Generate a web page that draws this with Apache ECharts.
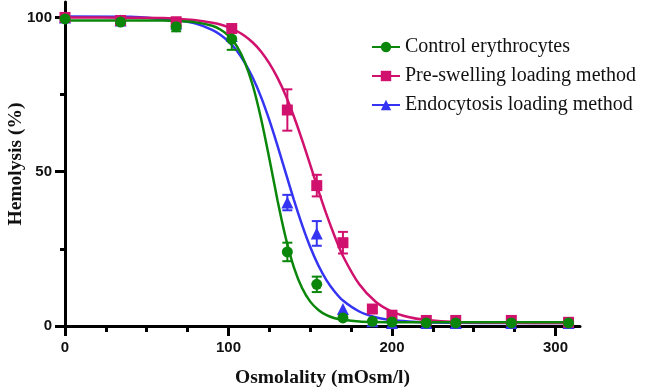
<!DOCTYPE html>
<html>
<head>
<meta charset="utf-8">
<script src="https://cdn.jsdelivr.net/npm/echarts@6/dist/echarts.min.js"></script>
<style>
  html, body { margin: 0; padding: 0; background: #fff; }
  #chart { width: 647px; height: 388px; }
</style>
</head>
<body>
<div id="chart"></div>
<script>
// measured points (mean +/- sd)
const osmolality = [0, 34, 68, 102, 136, 154, 170, 188, 200, 221, 239, 273, 308];
const controlMean = [99.5, 98.5, 97, 93, 24, 13.5, 2.6, 1.5, 1.3, 1, 1, 1, 1];
const controlErr = [0, 0, 1.5, 3.5, 3, 2.5, 0, 0, 0, 0, 0, 0, 0];
const preMean = [100, 99, 98.6, 96.4, 70, 45.5, 27, 5.5, 3.5, 1.8, 1.8, 1.8, 1.2];
const preErr = [0, 0, 0, 0, 6.7, 3.5, 3.5, 1, 0.8, 0, 0, 0, 0];
const endoMean = [100, 99, 98, 94, 40, 30, 5.5, 1.5, 1, 1, 1, 1, 1];
const endoErr = [0, 0, 0, 0, 2.5, 4, 0, 0, 0, 0, 0, 0, 0];

// fitted curves
const curveX = [0, 40, 60, 70, 80, 90, 95, 100, 105, 110, 115, 120, 125, 130, 135, 140, 145, 150, 155, 160, 165, 170, 180, 190, 200, 210, 220, 240, 270, 308];
const controlCurve = [99, 99, 99, 98.8, 98.4, 97.3, 96.1, 94.1, 90.8, 85.5, 77.7, 67, 54.2, 40.7, 28.6, 19, 12.3, 7.9, 5.2, 3.5, 2.5, 2, 1.46, 1.28, 1.22, 1.2, 1.2, 1.2, 1.2, 1.2];
const preCurve = [100, 99.9, 99.8, 99.5, 99.1, 98.3, 97.7, 96.8, 95.6, 94, 91.8, 88.9, 85.1, 80.4, 74.7, 67.9, 60.3, 52.2, 43.9, 36.1, 29, 22.7, 13.5, 7.85, 4.64, 2.9, 2, 1.26, 1.03, 1];
const endoCurve = [100.3, 100.2, 99.5, 99, 98, 96, 94.4, 92.2, 89.3, 85.3, 80.3, 74.1, 66.7, 58.4, 49.6, 40.9, 32.8, 25.6, 19.6, 14.8, 11.1, 8.25, 4.7, 2.85, 1.92, 1.45, 1.2, 1.05, 1, 1];

const xMajor = [0, 100, 200, 300];
const xMinor = [25, 50, 75, 125, 150, 175, 225, 250, 275];
const yMajor = [0, 50, 100];
const yMinor = [25, 75];

const names = ['Control erythrocytes', 'Pre-swelling loading method', 'Endocytosis loading method'];
const colors = ['#0a870a', '#d0126e', '#3434f2'];
const symbols = ['circle', 'rect', 'triangle'];

const chart = echarts.init(document.getElementById('chart'), null, { renderer: 'canvas' });

const pairs = (xs, ys) => xs.map((x, i) => [x, ys[i]]);
const errPairs = (xs, ys, es) => xs.map((x, i) => [x, ys[i] - es[i], ys[i] + es[i]]).filter((d, i) => es[i] > 0);

function curveSeries(i, ys) {
  return {
    name: names[i], type: 'line', data: pairs(curveX, ys),
    smooth: 0.3, showSymbol: false, symbol: symbols[i], symbolSize: 11,
    lineStyle: { color: colors[i], width: 2.5 }, itemStyle: { color: colors[i] },
    silent: true, z: 2
  };
}
function pointSeries(i, ys) {
  return {
    name: names[i], type: 'scatter', data: pairs(osmolality, ys),
    symbol: symbols[i], symbolSize: i === 2 ? 12 : 11,
    itemStyle: { color: colors[i], opacity: 1 }, z: 4
  };
}
function errSeries(i, ys, es) {
  return {
    type: 'custom', data: errPairs(osmolality, ys, es), z: 3, silent: true,
    renderItem: function (params, api) {
      const lo = api.coord([api.value(0), api.value(1)]);
      const hi = api.coord([api.value(0), api.value(2)]);
      const w = 5;
      const style = { stroke: colors[i], lineWidth: 2 };
      return {
        type: 'group',
        children: [
          { type: 'line', shape: { x1: lo[0], y1: lo[1], x2: hi[0], y2: hi[1] }, style: style },
          { type: 'line', shape: { x1: lo[0] - w, y1: lo[1], x2: lo[0] + w, y2: lo[1] }, style: style },
          { type: 'line', shape: { x1: hi[0] - w, y1: hi[1], x2: hi[0] + w, y2: hi[1] }, style: style }
        ]
      };
    }
  };
}

const axisLine = { show: true, onZero: false, lineStyle: { color: '#000', width: 3 } };

chart.setOption({
  animation: false,
  grid: { left: 65, right: 67, top: 2, bottom: 62, outerBoundsMode: 'none', containLabel: false },
  legend: {
    data: names, orient: 'vertical', left: 366, top: 32,
    itemWidth: 28, itemHeight: 13, itemGap: 9,
    textStyle: { fontFamily: 'Liberation Serif', fontSize: 20, color: '#111' }
  },
  xAxis: [{
    type: 'value', min: 0, max: 315, position: 'bottom',
    name: 'Osmolality (mOsm/l)', nameLocation: 'middle', nameGap: 42, nameMoveOverlap: false,
    nameTextStyle: { fontFamily: 'Liberation Serif', fontWeight: 'bold', fontSize: 19.5, color: '#111' },
    axisLine: axisLine,
    axisTick: { show: true, length: 10, lineStyle: { width: 3, color: '#000' }, customValues: xMajor },
    axisLabel: { customValues: xMajor, margin: 14, fontFamily: 'Liberation Sans', fontWeight: 'bold', fontSize: 15, color: '#111' },
    splitLine: { show: false }
  }, {
    type: 'value', min: 0, max: 315, position: 'bottom',
    axisLine: { show: false },
    axisTick: { show: true, length: 6, lineStyle: { width: 3, color: '#000' }, customValues: xMinor },
    axisLabel: { show: false }, splitLine: { show: false }
  }],
  yAxis: [{
    type: 'value', min: 0, max: 105, position: 'left',
    name: 'Hemolysis (%)', nameLocation: 'middle', nameGap: 39, nameMoveOverlap: false,
    nameTextStyle: { fontFamily: 'Liberation Serif', fontWeight: 'bold', fontSize: 19.5, color: '#111' },
    axisLine: axisLine,
    axisTick: { show: true, length: 10, lineStyle: { width: 3, color: '#000' }, customValues: yMajor },
    axisLabel: { customValues: yMajor, margin: 13, fontFamily: 'Liberation Sans', fontWeight: 'bold', fontSize: 15, color: '#111' },
    splitLine: { show: false }
  }, {
    type: 'value', min: 0, max: 105, position: 'left', offset: 0,
    axisLine: { show: false },
    axisTick: { show: true, length: 5, lineStyle: { width: 3, color: '#000' }, customValues: yMinor },
    axisLabel: { show: false }, splitLine: { show: false }
  }],
  series: [
    curveSeries(2, endoCurve),
    curveSeries(1, preCurve),
    curveSeries(0, controlCurve),
    errSeries(2, endoMean, endoErr),
    errSeries(1, preMean, preErr),
    errSeries(0, controlMean, controlErr),
    pointSeries(2, endoMean),
    pointSeries(1, preMean),
    pointSeries(0, controlMean)
  ]
});
</script>
</body>
</html>
